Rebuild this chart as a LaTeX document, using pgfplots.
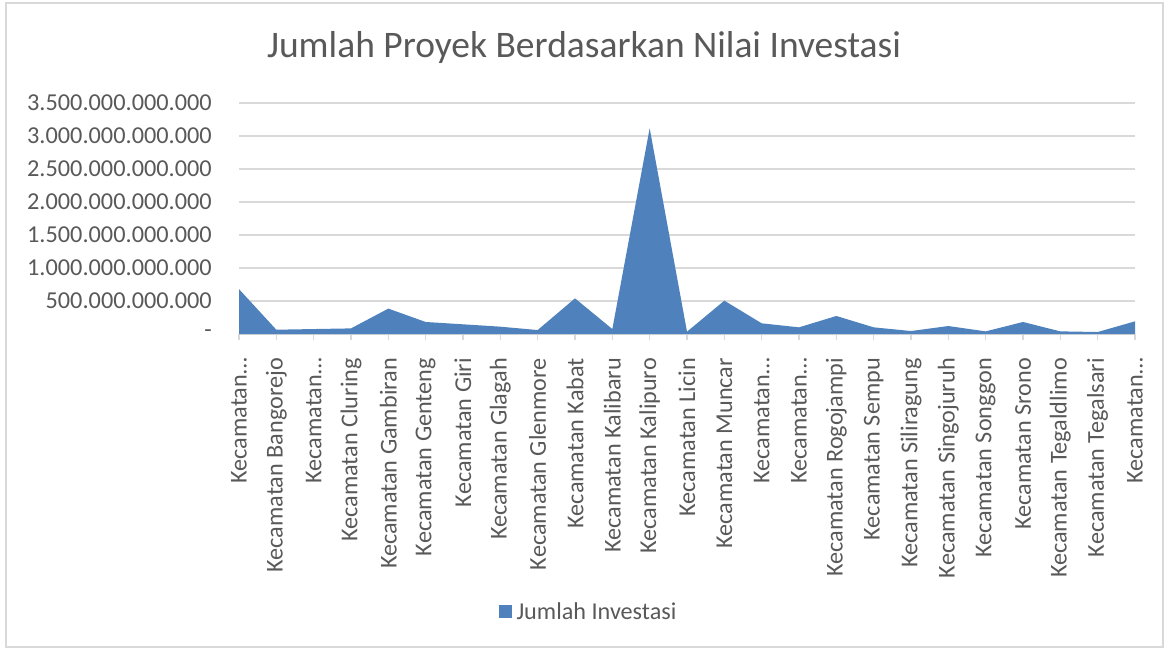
\documentclass[border=0pt]{standalone}
\usepackage{fontspec}
\setmainfont{Carlito}
\usepackage{pgfplots}
\pgfplotsset{compat=1.18}
\definecolor{txt}{HTML}{595959}
\definecolor{gridc}{HTML}{D9D9D9}
\definecolor{areac}{HTML}{4F81BD}
\begin{document}
\begin{tikzpicture}
\useasboundingbox (0,0) rectangle (1164bp,648bp);
\draw[gridc, line width=1.2bp] (6bp,1bp) rectangle (1163bp,645bp);
\node[txt, font=\fontsize{37.5bp}{44bp}\selectfont] at (584bp,600bp) {Jumlah Proyek Berdasarkan Nilai Investasi};
\begin{axis}[
  at={(239bp,314bp)}, anchor=south west,
  scale only axis, width=896bp, height=231bp,
  xmin=0, xmax=24, ymin=0, ymax=3.5e12,
  scaled y ticks=false,
  axis x line*=bottom, axis y line*=left,
  x axis line style={gridc, line width=1.5bp, -},
  y axis line style={draw=none},
  ymajorgrids, grid style={gridc, line width=1.2bp},
  ytick={0,5e11,1e12,1.5e12,2e12,2.5e12,3e12,3.5e12},
  yticklabels={-,500.000.000.000,1.000.000.000.000,1.500.000.000.000,2.000.000.000.000,2.500.000.000.000,3.000.000.000.000,3.500.000.000.000},
  ytick style={draw=none},
  yticklabel style={anchor=east, inner sep=0pt, xshift=-21bp, text=txt, font=\fontsize{24.3bp}{28bp}\selectfont},
  xtick={0,...,24},
  xticklabels={Kecamatan…,Kecamatan Bangorejo,Kecamatan…,Kecamatan Cluring,Kecamatan Gambiran,Kecamatan Genteng,Kecamatan Giri,Kecamatan Glagah,Kecamatan Glenmore,Kecamatan Kabat,Kecamatan Kalibaru,Kecamatan Kalipuro,Kecamatan Licin,Kecamatan Muncar,Kecamatan…,Kecamatan…,Kecamatan Rogojampi,Kecamatan Sempu,Kecamatan Siliragung,Kecamatan Singojuruh,Kecamatan Songgon,Kecamatan Srono,Kecamatan Tegaldlimo,Kecamatan Tegalsari,Kecamatan…},
  xtick style={gridc, line width=1.2bp},
  tick align=outside, major tick length=6bp,
  xticklabel style={rotate=90, anchor=east, inner sep=0pt, text=txt, font=\fontsize{24.2bp}{28bp}\selectfont},
  xticklabel shift=18bp,
  legend style={at={(0.39,-1.203)}, anchor=center, draw=none, fill=none, text=txt, font=\fontsize{24.2bp}{28bp}\selectfont},
  legend image code/.code={\fill[areac] (0bp,-6.5bp) rectangle (13bp,6.5bp); \path (16bp,0bp);},
  clip=false,
]
\addplot[fill=areac, draw=none] coordinates {
(0,680e9) (1,65e9) (2,75e9) (3,85e9) (4,385e9) (5,182e9) (6,147e9) (7,111e9) (8,60e9) (9,540e9)
(10,75e9) (11,3117e9) (12,35e9) (13,505e9) (14,162e9) (15,101e9) (16,273e9) (17,101e9) (18,45e9)
(19,121e9) (20,40e9) (21,182e9) (22,40e9) (23,30e9) (24,192e9)
} \closedcycle;
\addlegendentry{Jumlah Investasi}
\end{axis}
\end{tikzpicture}
\end{document}
